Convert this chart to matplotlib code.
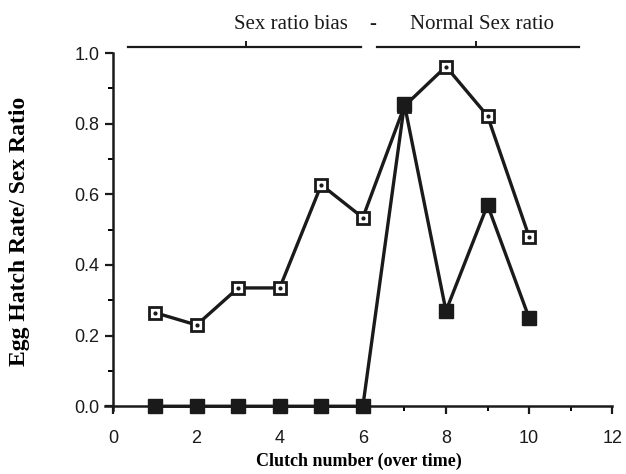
import numpy as np
import matplotlib.pyplot as plt
from matplotlib.ticker import MultipleLocator

# Data
clutch = [1, 2, 3, 4, 5, 6, 7, 8, 9, 10]
hatch_rate = [0.265, 0.23, 0.335, 0.335, 0.627, 0.534, 0.85, 0.962, 0.822, 0.48]
sex_ratio = [0.0, 0.0, 0.0, 0.0, 0.0, 0.0, 0.855, 0.27, 0.57, 0.25]

# Period brackets above the plot
period_labels = ["Sex ratio bias", "Normal Sex ratio"]
period_spans = [(0.36, 5.95), (6.34, 11.2)]
period_marks = [3.2, 8.72]

fig = plt.figure(figsize=(6.26, 4.74), dpi=100)
ax = fig.add_axes([0.168, 0.134, 0.81, 0.754])

# Open squares with a centre dot
ax.plot(clutch, hatch_rate, color='#1a1a1a', lw=2.4, marker='s', ms=9,
        mfc='white', mec='#1a1a1a', mew=2, zorder=3, clip_on=False)
ax.plot(clutch, hatch_rate, ls='none', marker='o', ms=2, color='#1a1a1a', zorder=4)
# Filled squares (drawn on top)
ax.plot(clutch, sex_ratio, color='#1a1a1a', lw=2.4, marker='s', ms=9.5,
        mfc='#1a1a1a', mec='#1a1a1a', zorder=5, clip_on=False)

ax.set_xlim(-0.2, 12)
ax.set_ylim(-0.012, 1.0)
ax.spines['left'].set_position(('data', 0))
ax.spines['bottom'].set_position(('data', 0))
ax.xaxis.set_major_locator(MultipleLocator(2))
ax.xaxis.set_minor_locator(MultipleLocator(1))
ax.yaxis.set_major_locator(MultipleLocator(0.2))
ax.yaxis.set_minor_locator(MultipleLocator(0.1))
ax.yaxis.set_major_formatter(plt.FuncFormatter(lambda v, p: f"{v:.1f}"))

for s in ['top', 'right']:
    ax.spines[s].set_visible(False)
for s in ['left', 'bottom']:
    ax.spines[s].set_linewidth(1.8)
    ax.spines[s].set_color('#1a1a1a')

ax.tick_params(axis='both', which='major', direction='out', length=6, width=1.6,
               labelsize=13, colors='#1a1a1a')
ax.tick_params(axis='x', which='major', pad=11)
ax.tick_params(axis='y', which='major', pad=4)
ax.tick_params(axis='both', which='minor', direction='out', length=3.5, width=1.4)
for lab in ax.get_xticklabels() + ax.get_yticklabels():
    lab.set_fontfamily('Liberation Sans')

ax.set_xlabel('Clutch number (over time)', fontfamily='Liberation Serif',
              fontweight='bold', fontsize=13, labelpad=4)
ax.set_ylabel('Egg Hatch Rate/ Sex Ratio', fontfamily='Liberation Serif',
              fontweight='bold', fontsize=17, labelpad=32)

# brackets and text above the axes
ybr = 1.018
for (x0, x1), xm in zip(period_spans, period_marks):
    ax.plot([x0, x1], [ybr, ybr], color='#1a1a1a', lw=1.6, clip_on=False)
    ax.plot([xm, xm], [ybr, ybr + 0.012], color='#1a1a1a', lw=1.4, clip_on=False)

ax.text(4.27, 1.08, period_labels[0], ha='center', va='center',
        fontfamily='Liberation Serif', fontsize=15, color='#1a1a1a')
ax.text(6.23, 1.08, '-', ha='center', va='center',
        fontfamily='Liberation Serif', fontsize=15, color='#1a1a1a')
ax.text(8.87, 1.08, period_labels[1], ha='center', va='center',
        fontfamily='Liberation Serif', fontsize=15, color='#1a1a1a')

fig.savefig('out.png', dpi=100)
